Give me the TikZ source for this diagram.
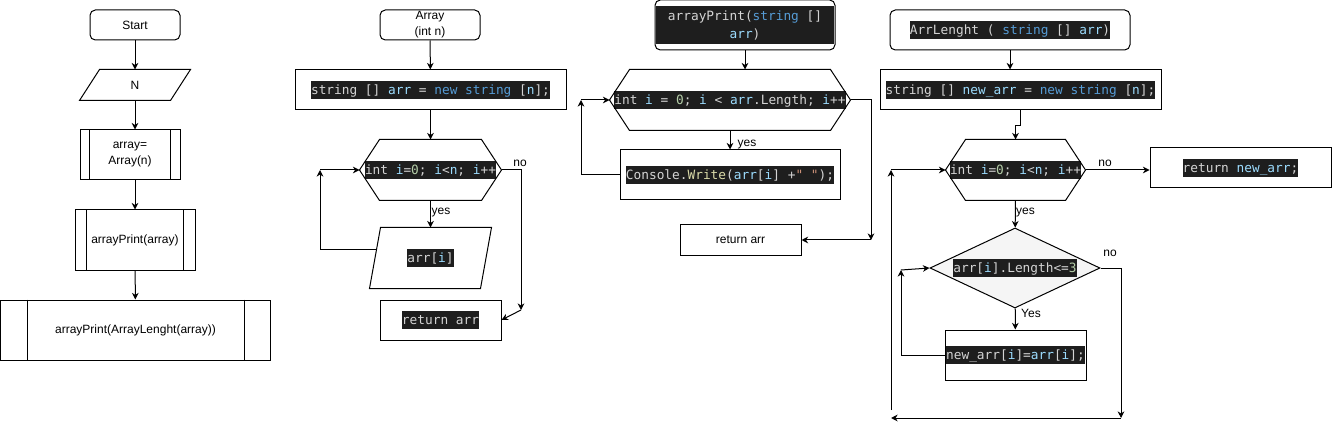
\documentclass[tikz,border=0pt]{standalone}
\usepackage{fontspec}
\setmainfont{Liberation Sans}
\setmonofont{DejaVu Sans Mono}
\usepackage{xcolor}
\usetikzlibrary{arrows.meta,shapes.geometric}

\definecolor{codebg}{HTML}{1E1E1E}
\definecolor{codefg}{HTML}{D4D4D4}
\definecolor{codevar}{HTML}{9CDCFE}
\definecolor{codekw}{HTML}{569CD6}
\definecolor{codenum}{HTML}{B5CEA8}
\definecolor{codefun}{HTML}{DCDCAA}
\definecolor{codestr}{HTML}{CE9178}
\definecolor{condfill}{HTML}{F5F5F5}

\newcommand{\codefont}{\ttfamily\fontsize{9.6pt}{13.5pt}\selectfont}
\newcommand{\code}[1]{{\setlength{\fboxsep}{0pt}\colorbox{codebg}{\rule[-3.5pt]{0pt}{13.5pt}\codefont\color{codefg}#1}}}
\newcommand{\cvar}[1]{\textcolor{codevar}{#1}}
\newcommand{\ckw}[1]{\textcolor{codekw}{#1}}
\newcommand{\cnum}[1]{\textcolor{codenum}{#1}}
\newcommand{\cfun}[1]{\textcolor{codefun}{#1}}
\newcommand{\cstr}[1]{\textcolor{codestr}{#1}}

% frames drawn round plain nodes
\newcommand{\hexframe}[2]{\draw ([shift={(#2,0)}]#1.north west) -- ([shift={(-#2,0)}]#1.north east) -- (#1.east) -- ([shift={(-#2,0)}]#1.south east) -- ([shift={(#2,0)}]#1.south west) -- (#1.west) -- cycle;}
\newcommand{\paraframe}[2]{\draw ([shift={(#2,0)}]#1.north west) -- (#1.north east) -- ([shift={(-#2,0)}]#1.south east) -- (#1.south west) -- cycle;}
\newcommand{\bars}[2]{\draw ([shift={(#2,0)}]#1.north west) -- ([shift={(#2,0)}]#1.south west) ([shift={(-#2,0)}]#1.north east) -- ([shift={(-#2,0)}]#1.south east);}

\begin{document}
\begin{tikzpicture}[
  x=0.75pt, y=-0.75pt, line width=0.75pt,
  >={Stealth[length=5pt,width=5pt]},
  sz/.style 2 args={minimum width=#1*0.75pt, minimum height=#2*0.75pt},
  base/.style={inner sep=0pt, font=\fontsize{9pt}{12pt}\selectfont, align=center},
  term/.style={base, draw, rounded corners=4pt},
  proc/.style={base, draw},
  frame/.style={base},
  cond/.style={base, draw, diamond, aspect=2.1, fill=condfill},
  lbl/.style={inner sep=0pt, font=\fontsize{9pt}{11pt}\selectfont}
]
\fill[white] (0,0) rectangle (1332,431);
\useasboundingbox (0,0) rectangle (1332,431);

% Main program
\node[term, sz={90}{30}] (start) at (135,25) {Start};
\node[frame, sz={110}{30}] (inN) at (135,85) {N};
\paraframe{inN}{20}
\node[proc, sz={100}{50}] (callArr) at (130,155) {array=\\Array(n)};
\bars{callArr}{10}
\node[proc, sz={120}{60}] (callPrint) at (135,240) {arrayPrint(array)};
\bars{callPrint}{12}
\node[proc, sz={270}{60}] (callLen) at (135.5,330) {arrayPrint(ArrayLenght(array))};
\bars{callLen}{27}

\draw[->] (start) -- (inN);
\draw[->] (inN.south) -- (inN.south |- callArr.north);
\draw[->] (callArr.south -| callPrint.north) -- (callPrint.north);
\draw[->] (callPrint) -- (callLen);

% Array(int n)
\node[term, sz={100}{30}] (fArr) at (430,25) {Array\\(int n)};
\node[proc, sz={271}{40}] (decl1) at (430.5,90) {\code{string [] \cvar{arr} = \ckw{new string} [\cvar{n}];}};
\node[frame, sz={141}{60}] (loop1) at (430.5,170) {\code{int \cvar{i}=\cnum{0}; \cvar{i}<\cvar{n}; \cvar{i}++}};
\hexframe{loop1}{20}
\node[frame, sz={121}{60}] (outI) at (430.5,258) {\code{arr[\cvar{i}]}};
\paraframe{outI}{11}
\node[proc, sz={121}{40}] (ret1) at (440.5,320) {\code{return arr}};
\coordinate (outI-l) at (377,250);
\coordinate (back1) at (320,170);
\coordinate (no1) at (521,310);

\draw[->] (fArr) -- (decl1);
\draw[->] (decl1) -- (loop1);
\draw[->] (loop1) -- (outI);
\node[lbl] (yes1) at (441,213) {yes};
\draw[->] (outI-l) -| (back1);
\draw[->] (back1) -- (loop1.west);
\draw[->] (loop1.east) -| (no1);
\draw[->] (no1) -- (ret1.east);
\node[lbl] (lno1) at (520,163) {no};

% arrayPrint(string [] arr)
\node[term, sz={180}{50}] (fPrint) at (745,25) {{\setlength{\fboxsep}{0pt}\colorbox{codebg}{\begin{minipage}[c][28.5pt][c]{134pt}\centering\codefont\color{codefg}arrayPrint(\ckw{string} []\\\cvar{arr})\end{minipage}}}};
\node[frame, sz={240}{60}] (loop2) at (730,100) {\code{int \cvar{i} = \cnum{0}; \cvar{i} < \cvar{arr}.Length; \cvar{i}++}};
\hexframe{loop2}{20}
\node[proc, sz={220}{50}] (body2) at (730,175) {\code{Console.\cfun{Write}(\cvar{arr}[\cvar{i}] +\cstr{" "});}};
\node[proc, sz={121}{30}] (ret2) at (740.5,240) {return arr};
\coordinate (back2) at (581,100);
\coordinate (end2) at (871,240);

\draw[->] (fPrint.south) -- (fPrint.south |- loop2.north);
\draw[->] (loop2) -- (body2);
\node[lbl] (yes2) at (747,145) {yes};
\draw[->] (body2.west) -| (back2);
\draw[->] (back2) -- (loop2.west);
\draw[->] (loop2.east) -| (end2);
\draw[->] (end2) -- (ret2.east);

% ArrLenght(string [] arr)
\node[term, sz={240}{40}] (fLen) at (1010,30) {\code{ArrLenght ( \ckw{string} [] \cvar{arr})}};
\node[proc, sz={281}{40}] (decl2) at (1020.5,90) {\code{string [] \cvar{new\_arr} = \ckw{new string} [\cvar{n}];}};
\node[frame, sz={139}{60}] (loop3) at (1015.5,170) {\code{int \cvar{i}=\cnum{0}; \cvar{i}<\cvar{n}; \cvar{i}++}};
\hexframe{loop3}{20}
\node[proc, sz={181}{40}] (ret3) at (1240.5,168) {\code{return \cvar{new\_arr};}};
\node[cond, sz={170}{80}] (check) at (1015,268) {\code{arr[\cvar{i}].Length<=\cnum{3}}};
\node[proc, sz={141}{50}] (body3) at (1015.5,355) {\code{new\_arr[\cvar{i}]=\cvar{arr}[\cvar{i}];}};
\coordinate (back3) at (901,270);
\coordinate (no3) at (1121,418);
\coordinate (left3) at (891,418);
\coordinate (rise3) at (891,410);
\coordinate (top3) at (891,170);

\draw[->] (fLen.south) -- (fLen.south |- decl2.north);
\draw[->] (decl2.south) -- ++(0,15) -| (loop3.north);
\draw[->] (loop3.east) -- (loop3.east -| ret3.west);
\node[lbl] (lno3) at (1105,163) {no};
\draw[->] (loop3) -- (check);
\node[lbl] (yes3) at (1025.5,213) {yes};
\draw[->] (check) -- (body3);
\node[lbl] (yes4) at (1031,313) {Yes};
\draw[->] (body3.west) -| (back3);
\draw[->] (back3) -- (check.west);
\draw[->] (check.east) -| (no3);
\node[lbl] (lno4) at (1110,253) {no};
\draw[->] (no3) -- (left3);
\draw[->] (rise3) -- (top3);
\draw[->] (top3) -- (loop3.west);

\end{tikzpicture}
\end{document}
